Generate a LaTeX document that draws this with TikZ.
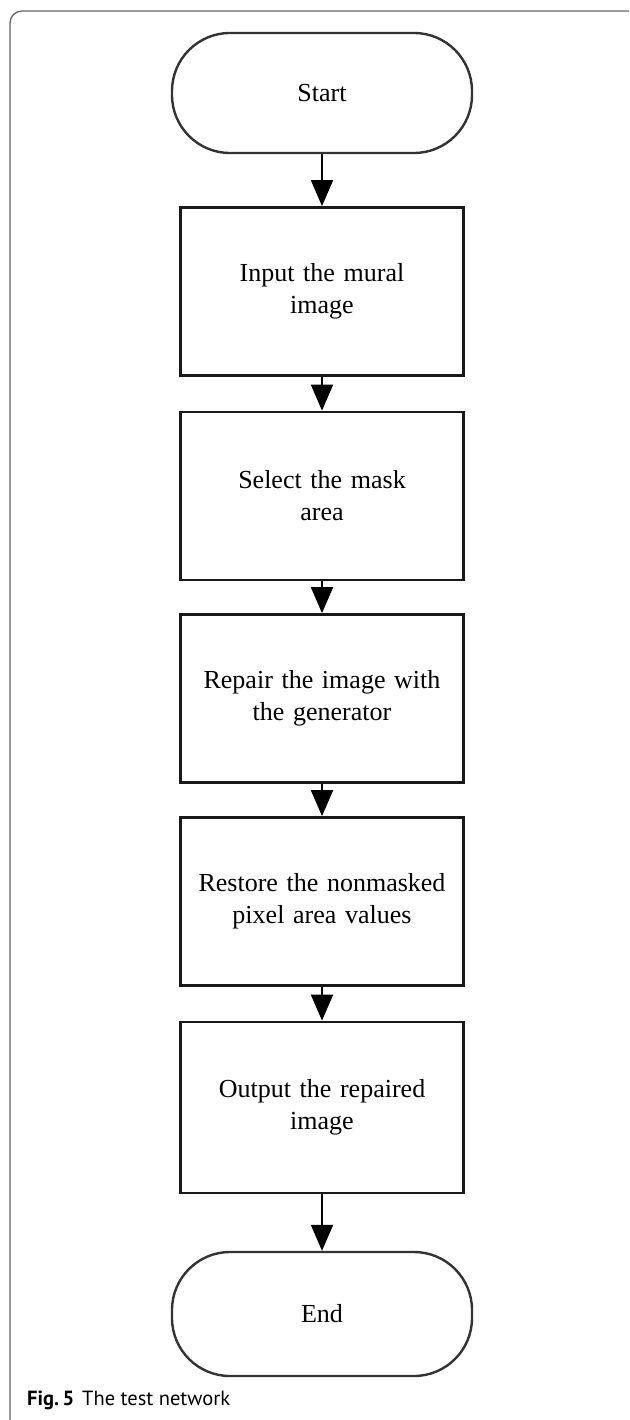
\documentclass[tikz,border=0pt]{standalone}
\usepackage{fontspec}
\setmainfont{Liberation Serif}
\newfontfamily\capfont{PT Sans}
\usetikzlibrary{arrows.meta, positioning}

\begin{document}
\begin{tikzpicture}[x=1pt, y=-1pt,
  term/.style={draw=black!80, line width=2.4pt, rounded corners=58pt,
               minimum width=300pt, minimum height=120pt,
               font=\fontsize{26}{32}\selectfont},
  proc/.style={draw=black!90, line width=2.8pt, minimum width=283pt,
               minimum height=168pt, text width=270pt, align=center,
               font=\fontsize{26}{32}\selectfont},
  flow/.style={-{Triangle[length=26pt, width=22pt]}, line width=2pt, black},
]
\useasboundingbox (0,0) rectangle (629,1420);
\clip (0,0) rectangle (629,1420);
% outer frame
\draw[black!60, line width=1.3pt, rounded corners=12pt] (10,11) rectangle (660,1450);

% Main flow
\node[term] (start) at (322,93) {Start};
\node[proc] (input) at (322,291.5) {Input the mural\\image};
\node[proc] (mask) at (322,496) {Select the mask\\area};
\node[proc] (repair) at (322,698.5) {Repair the image with\\the generator};
\node[proc] (restore) at (322,901.5) {Restore the nonmasked\\pixel area values};
\node[proc, minimum height=171pt] (output) at (322,1107.5) {Output the repaired\\image};
\node[term, minimum height=124pt] (end) at (322,1314) {End};

\draw[flow] (start) -- (input);
\draw[flow] (input) -- (mask);
\draw[flow] (mask) -- (repair);
\draw[flow] (repair) -- (restore);
\draw[flow] (restore) -- (output);
\draw[flow] (output) -- (end);

% Caption
\node[anchor=base west, inner sep=0pt, font=\capfont\fontsize{20.5}{23}\selectfont]
  (cap) at (27,1405) {\textbf{Fig.\,5}\hspace{8pt}The test network};
\end{tikzpicture}
\end{document}
